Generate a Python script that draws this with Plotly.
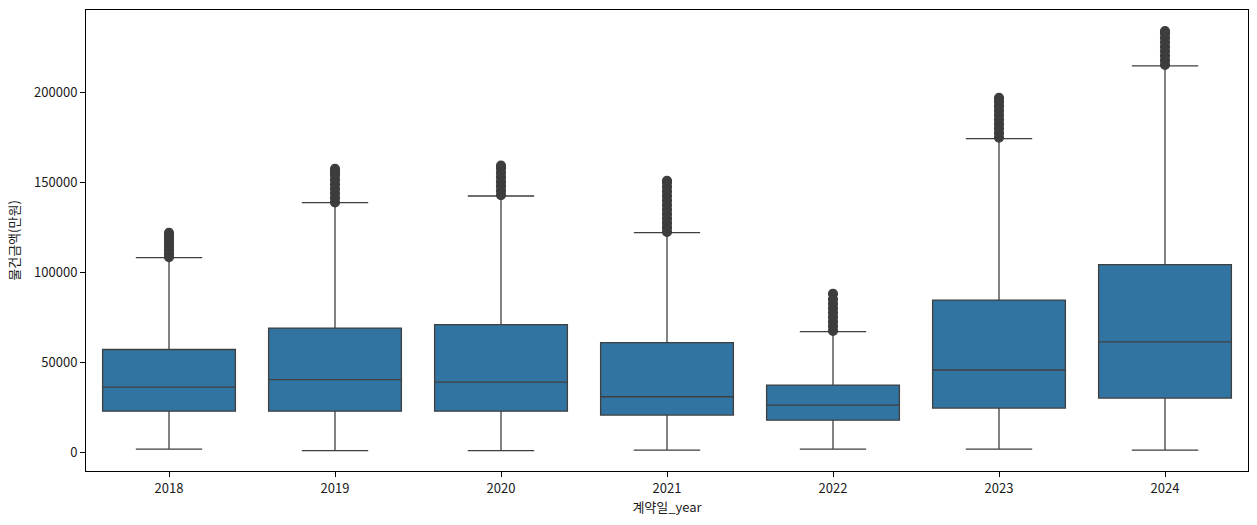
import plotly.graph_objects as go

years = ["2018", "2019", "2020", "2021", "2022", "2023", "2024"]
lower_fence = [1700, 800, 800, 1100, 1700, 1700, 1100]
q1 = [22800, 22800, 22800, 20600, 17800, 24500, 30100]
median = [36200, 40300, 39000, 30800, 26200, 45700, 61300]
q3 = [57100, 69000, 70900, 60900, 37300, 84600, 104300]
upper_fence = [108200, 138800, 142500, 122100, 67000, 174400, 214900]

outliers = {
    "2018": [108500, 110500, 112500, 114500, 116500, 118500, 120500, 122000],
    "2019": [139000, 141500, 144000, 146500, 149000, 151500, 154000, 156000, 157600],
    "2020": [143000, 145500, 148000, 150500, 153000, 155500, 158000, 159400],
    "2021": [122500, 125000, 127500, 130000, 132500, 135000, 137500, 140000,
             142500, 145000, 147500, 150000, 151000],
    "2022": [67500, 70000, 72500, 75000, 77500, 80000, 82500, 85000, 88100],
    "2023": [175000, 177500, 180000, 182500, 185000, 187500, 190000, 192500,
             195000, 197100],
    "2024": [215500, 218000, 220500, 223000, 225500, 228000, 230500, 233000, 234200],
}

y_ticks = [0, 50000, 100000, 150000, 200000]

FONT = "Malgun Gothic, Noto Sans CJK KR, sans-serif"
BOX_FILL = "#3274a1"
LINE = "#3f3f3f"

fig = go.Figure()

fig.add_trace(go.Box(
    x=years,
    q1=q1,
    median=median,
    q3=q3,
    lowerfence=lower_fence,
    upperfence=upper_fence,
    width=0.8,
    fillcolor=BOX_FILL,
    line=dict(color=LINE, width=1.3),
    whiskerwidth=0.5,
    boxpoints=False,
    hoverinfo="skip",
    showlegend=False,
))

ox, oy = [], []
for yr in years:
    for v in outliers[yr]:
        ox.append(yr)
        oy.append(v)

fig.add_trace(go.Scatter(
    x=ox, y=oy,
    mode="markers",
    marker=dict(size=9, color="#3d3d3d", line=dict(color="#3d3d3d", width=1.2)),
    hoverinfo="skip",
    showlegend=False,
))

fig.update_layout(
    width=1257, height=525,
    margin=dict(l=86, r=9, t=10, b=54),
    paper_bgcolor="white",
    plot_bgcolor="white",
    font=dict(family=FONT, size=13, color="#1a1a1a"),
    xaxis=dict(
        type="category",
        categoryorder="array",
        categoryarray=years,
        range=[-0.5, 6.5],
        showgrid=False,
        zeroline=False,
        showline=True, linecolor="black", linewidth=1, mirror=True,
        ticks="outside", ticklen=5, tickcolor="black", tickwidth=1,
        title=dict(text="계약일_year", font=dict(family=FONT, size=13), standoff=4),
    ),
    yaxis=dict(
        range=[-10500, 246000],
        tickvals=y_ticks,
        ticktext=[str(t) for t in y_ticks],
        showgrid=False,
        zeroline=False,
        showline=True, linecolor="black", linewidth=1, mirror=True,
        ticks="outside", ticklen=5, tickcolor="black", tickwidth=1,
        title=dict(text="물건금액(만원)", font=dict(family=FONT, size=13), standoff=11),
    ),
)

fig.write_html(
    "out.html",
    config={"displayModeBar": False},
    post_script="document.body.style.margin='0';document.body.style.overflow='hidden';",
)
